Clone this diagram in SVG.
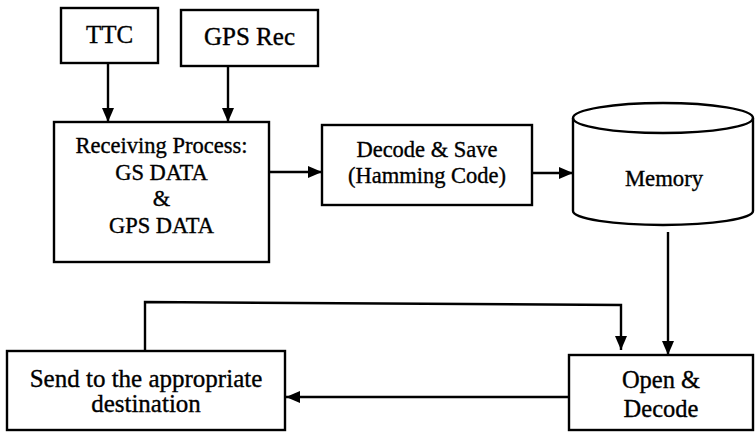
<svg xmlns="http://www.w3.org/2000/svg" width="756" height="433" viewBox="0 0 756 433">
<defs>
<marker id="ah" markerWidth="14" markerHeight="12" refX="14" refY="6" orient="auto" markerUnits="userSpaceOnUse">
<path d="M0,0 L14,6 L0,12 Z" fill="#000"/>
</marker>
<style>
.box{fill:#fff;stroke:#000;stroke-width:2.4}
.t{font-family:"Liberation Serif","Times New Roman",serif;fill:#000;stroke:#000;stroke-width:0.35;text-anchor:middle}
.c{fill:none;stroke:#000;stroke-width:2.4;marker-end:url(#ah)}
</style>
</defs>
<rect width="756" height="433" fill="#fff"/>
<g id="ttc"><rect class="box" x="61" y="8" width="97" height="55"/><text class="t" x="109.5" y="43" font-size="25">TTC</text></g>
<g id="gpsrec"><rect class="box" x="181" y="10" width="137" height="56"/><text class="t" x="249.5" y="45" font-size="25">GPS Rec</text></g>
<g id="receiving"><rect class="box" x="54" y="122" width="215" height="140"/>
<text class="t" x="161.5" y="153" font-size="22.5">Receiving Process:</text>
<text class="t" x="161.5" y="180" font-size="22.5">GS DATA</text>
<text class="t" x="161.5" y="206" font-size="22.5">&amp;</text>
<text class="t" x="161.5" y="233" font-size="22.5">GPS DATA</text></g>
<g id="decode"><rect class="box" x="322" y="125" width="210" height="80"/>
<text class="t" x="427" y="157" font-size="22.5">Decode &amp; Save</text>
<text class="t" x="427" y="183" font-size="22.5">(Hamming Code)</text></g>
<g id="memory">
<path class="box" d="M573,118 L573,211 A90,14 0 0 0 753,211 L753,118 A90,15 0 0 0 573,118 Z"/>
<path d="M573,118 A90,15 0 0 0 753,118" fill="none" stroke="#000" stroke-width="2.4"/>
<text class="t" x="664" y="186" font-size="22.7">Memory</text></g>
<g id="open"><rect class="box" x="569" y="355" width="184" height="75"/>
<text class="t" x="661" y="388" font-size="24.5">Open &amp;</text>
<text class="t" x="661" y="417" font-size="24.5">Decode</text></g>
<g id="send"><rect class="box" x="7" y="351" width="278" height="79"/>
<text class="t" x="146" y="387" font-size="25">Send to the appropriate</text>
<text class="t" x="146" y="412" font-size="25">destination</text></g>
<g id="connectors">
<path class="c" d="M108,63 L108,122"/>
<path class="c" d="M228,67 L228,122"/>
<path class="c" d="M269,172 L322,172"/>
<path class="c" d="M532,173 L573,173"/>
<path class="c" d="M668,232 L668,355"/>
<path class="c" d="M145,351 L145,302 L621,305 L621,350"/>
<path class="c" d="M569,397 L286,397"/>
</g>
</svg>
